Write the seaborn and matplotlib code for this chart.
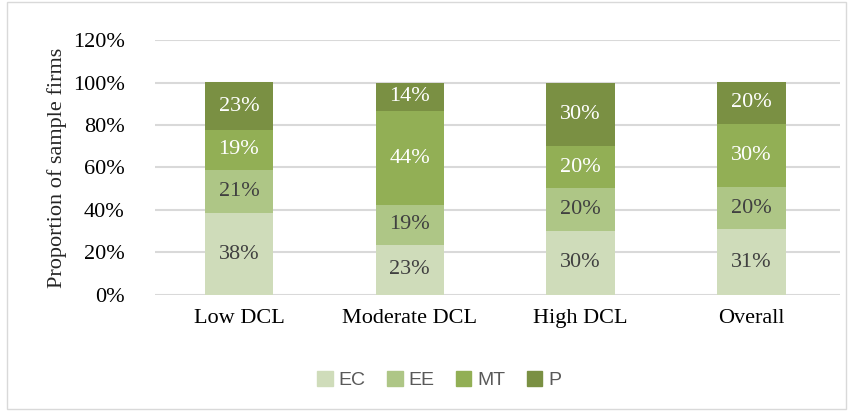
import matplotlib
matplotlib.use("Agg")
import matplotlib.pyplot as plt
import matplotlib.patches as mpatches
from matplotlib.ticker import PercentFormatter
import seaborn as sns
import pandas as pd

# chart data (shares, labels are rounded values)
groups = ["Low DCL", "Moderate DCL", "High DCL", "Overall"]
series = ["EC", "EE", "MT", "P"]
ec = [38.4, 23.5, 30.3, 30.8]
ee = [20.6, 18.9, 19.8, 19.8]
mt = [18.6, 44.0, 20.1, 30.0]
p = [22.6, 13.6, 29.8, 19.6]
labels = {
    "EC": ["38%", "23%", "30%", "31%"],
    "EE": ["21%", "19%", "20%", "20%"],
    "MT": ["19%", "44%", "20%", "30%"],
    "P": ["23%", "14%", "30%", "20%"],
}
colors = {"EC": "#CFDCBA", "EE": "#AEC686", "MT": "#92AF55", "P": "#7A9043"}
text_colors = {"EC": "#404040", "EE": "#404040", "MT": "white", "P": "white"}

df = pd.DataFrame({"group": groups, "EC": ec, "EE": ee, "MT": mt, "P": p})
for s in series:
    df[s] = df[s] / 100.0

sns.set_style("white")
plt.rcParams["font.family"] = ["Liberation Serif", "DejaVu Serif"]

fig = plt.figure(figsize=(8.53, 4.13), dpi=100)
ax = fig.add_axes([0.182, 0.286, 0.803, 0.617])

bottom = pd.Series([0.0] * len(df))
for s in series:
    sns.barplot(data=df, x="group", y=s, color=colors[s], width=0.4,
                saturation=1, bottom=bottom.values, ax=ax, label=s,
                linewidth=0, zorder=3)
    for i, (b, v) in enumerate(zip(bottom, df[s])):
        ax.text(i, b + v / 2, labels[s][i], ha="center", va="center",
                fontsize=16, color=text_colors[s], zorder=4)
    bottom = bottom + df[s]

ax.set_ylim(0, 1.2)
ax.set_xlim(-0.49, 3.52)
ax.set_yticks([0, 0.2, 0.4, 0.6, 0.8, 1.0, 1.2])
ax.yaxis.set_major_formatter(PercentFormatter(1.0, decimals=0))
ax.grid(axis="y", color="#D9D9D9", linewidth=1.5, zorder=0)
ax.set_axisbelow(True)
for sp in ax.spines.values():
    sp.set_visible(False)
ax.tick_params(axis="both", length=0, labelsize=16, colors="#000000", pad=10)
ax.tick_params(axis="y", pad=22)
ax.set_xlabel("")
ax.set_ylabel("Proportion of sample firms", fontsize=16, labelpad=4)

handles = [mpatches.Patch(color=colors[s], label=s) for s in series]
ax.legend(handles=handles, loc="center", bbox_to_anchor=(0.515, 0.08),
          bbox_transform=fig.transFigure, ncol=4, frameon=False,
          prop={"family": "Liberation Sans", "size": 14},
          labelcolor="#595959", handlelength=0.8, handleheight=0.8,
          handletextpad=0.3, columnspacing=1.1)

# light chart-area border
fig.patches.append(mpatches.Rectangle((0.008, 0.01), 0.984, 0.985,
                                      transform=fig.transFigure, fill=False,
                                      edgecolor="#D9D9D9", linewidth=1))

fig.savefig("out.png", dpi=100)
